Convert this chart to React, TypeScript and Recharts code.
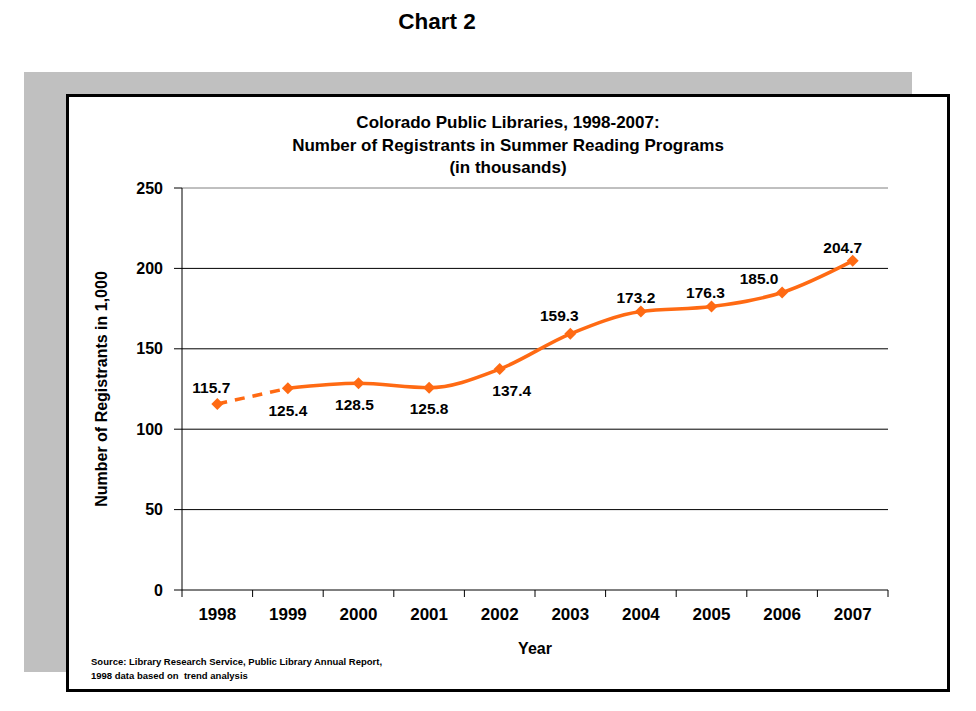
import {
  Line,
  LineChart,
  LabelList,
  ReferenceLine,
  XAxis,
  YAxis,
  Label,
} from 'recharts'

const YEARS = ['1998', '1999', '2000', '2001', '2002', '2003', '2004', '2005', '2006', '2007']
const REGISTRANTS = [115.7, 125.4, 128.5, 125.8, 137.4, 159.3, 173.2, 176.3, 185.0, 204.7]
// 1998 is a trend estimate, drawn dashed up to 1999
const ESTIMATED_UNTIL = 1
const Y_TICKS = [0, 50, 100, 150, 200, 250]
const GRID_LINES = [50, 100, 150, 200]
// where each value label sits relative to its marker
const LABEL_SHIFT: [number, number][] = [
  [-6, -16], [0, 22], [-4, 21], [0, 21], [12, 21],
  [-11, -18], [-5, -14], [-6, -14], [-23, -14], [-10, -13],
]

const ORANGE = '#ff6a13'
const FONT = '"Liberation Sans", Arial, sans-serif'

const data = YEARS.map((year, i) => ({
  year,
  value: REGISTRANTS[i],
  estimated: i <= ESTIMATED_UNTIL ? REGISTRANTS[i] : null,
  reported: i >= ESTIMATED_UNTIL ? REGISTRANTS[i] : null,
}))

const CHART_W = 884
const CHART_H = 598
const MARGIN = { top: 94, right: 62, bottom: 36, left: 0 }
const Y_AXIS_W = 116
const BAND = (CHART_W - MARGIN.right - MARGIN.left - Y_AXIS_W) / YEARS.length

function Diamond(props: any) {
  const { cx, cy, index } = props
  if (cx == null || cy == null) return <g key={`d-${index}`} />
  const r = 6
  return (
    <polygon
      key={`d-${index}`}
      points={`${cx},${cy - r} ${cx + r},${cy} ${cx},${cy + r} ${cx - r},${cy}`}
      fill={ORANGE}
    />
  )
}

function FirstDiamond(props: any) {
  if (props.index !== 0) return <g key={`e-${props.index}`} />
  return <Diamond {...props} />
}

function YearTick(props: any) {
  const { x, y, payload, index } = props
  return (
    <g>
      <text
        x={x}
        y={y + 30}
        textAnchor="middle"
        fontSize={17}
        fontWeight="bold"
        fontFamily={FONT}
        fill="#000"
      >
        {payload.value}
      </text>
      <line x1={x - BAND / 2} y1={y} x2={x - BAND / 2} y2={y + 7} stroke="#000" />
      {index === YEARS.length - 1 && (
        <line x1={x + BAND / 2} y1={y} x2={x + BAND / 2} y2={y + 7} stroke="#000" />
      )}
    </g>
  )
}

function ValueLabel(props: any) {
  const { x, y, value, index } = props
  const [dx, dy] = LABEL_SHIFT[index] ?? [0, -14]
  return (
    <text
      x={x + dx}
      y={y + dy}
      textAnchor="middle"
      dominantBaseline="central"
      fontSize={15.5}
      fontWeight="bold"
      fontFamily={FONT}
      fill="#000"
    >
      {Number(value).toFixed(1)}
    </text>
  )
}

export default function App() {
  return (
    <div
      style={{
        position: 'absolute',
        left: 0,
        top: 0,
        width: 976,
        height: 711,
        background: '#fff',
        fontFamily: FONT,
      }}
    >
      <div
        style={{
          position: 'absolute',
          left: 0,
          width: 874,
          top: 7,
          textAlign: 'center',
          fontSize: 22.5,
          fontWeight: 'bold',
          lineHeight: '30px',
        }}
      >
        Chart 2
      </div>

      <div style={{ position: 'absolute', left: 24, top: 72, width: 888, height: 600, background: '#c0c0c0' }} />
      <div
        style={{
          position: 'absolute',
          left: 66,
          top: 94,
          width: CHART_W,
          height: CHART_H,
          background: '#fff',
          border: '3px solid #000',
          boxSizing: 'border-box',
        }}
      />

      <div
        style={{
          position: 'absolute',
          left: 66,
          top: 112,
          width: CHART_W,
          textAlign: 'center',
          fontSize: 17,
          fontWeight: 'bold',
          lineHeight: '22.5px',
        }}
      >
        Colorado Public Libraries, 1998-2007:
        <br />
        Number of Registrants in Summer Reading Programs
        <br />
        (in thousands)
      </div>

      <div style={{ position: 'absolute', left: 66, top: 94 }}>
        <LineChart width={CHART_W} height={CHART_H} data={data} margin={MARGIN}>
          <XAxis
            dataKey="year"
            tickSize={0}
            tickMargin={0}
            tickLine={false}
            axisLine={{ stroke: '#000' }}
            tick={<YearTick />}
            height={66}
            interval={0}
            padding={{ left: BAND / 2, right: BAND / 2 }}
          >
            <Label
              value="Year"
              position="insideBottom"
              offset={2}
              fontSize={16}
              fontWeight="bold"
              fontFamily={FONT}
              fill="#000"
            />
          </XAxis>
          <YAxis
            width={Y_AXIS_W}
            domain={[0, 250]}
            ticks={Y_TICKS}
            tickSize={8}
            tickMargin={11}
            axisLine={{ stroke: '#000' }}
            tickLine={{ stroke: '#000' }}
            tick={{ fontSize: 16, fontWeight: 'bold', fill: '#000', fontFamily: FONT }}
            label={({ viewBox }: any) => (
              <text
                x={viewBox.x + 35}
                y={viewBox.y + viewBox.height / 2}
                transform={`rotate(-90, ${viewBox.x + 35}, ${viewBox.y + viewBox.height / 2})`}
                textAnchor="middle"
                dominantBaseline="central"
                fontSize={16}
                fontWeight="bold"
                fontFamily={FONT}
                fill="#000"
              >
                Number of Registrants in 1,000
              </text>
            )}
          />
          <YAxis
            yAxisId="edge"
            orientation="right"
            width={0}
            domain={[0, 250]}
            tick={false}
            tickLine={false}
            axisLine={{ stroke: '#808080' }}
          />
          {GRID_LINES.map((v) => (
            <ReferenceLine key={v} y={v} stroke="#000" />
          ))}
          <ReferenceLine y={250} stroke="#808080" />
          <Line
            dataKey="estimated"
            stroke={ORANGE}
            strokeWidth={3.5}
            strokeDasharray="10 8"
            dot={<FirstDiamond />}
            activeDot={false}
            isAnimationActive={false}
          />
          <Line
            dataKey="reported"
            type="monotone"
            stroke={ORANGE}
            strokeWidth={3.5}
            dot={<Diamond />}
            activeDot={false}
            connectNulls={false}
            isAnimationActive={false}
          />
          <Line
            dataKey="value"
            stroke="none"
            dot={false}
            activeDot={false}
            isAnimationActive={false}
          >
            <LabelList dataKey="value" content={<ValueLabel />} />
          </Line>
        </LineChart>
      </div>

      <div
        style={{
          position: 'absolute',
          left: 91,
          top: 655,
          fontSize: 9.5,
          fontWeight: 'bold',
          lineHeight: '14px',
        }}
      >
        Source: Library Research Service, Public Library Annual Report,
        <br />
        1998 data based on&nbsp; trend analysis
      </div>
    </div>
  )
}
